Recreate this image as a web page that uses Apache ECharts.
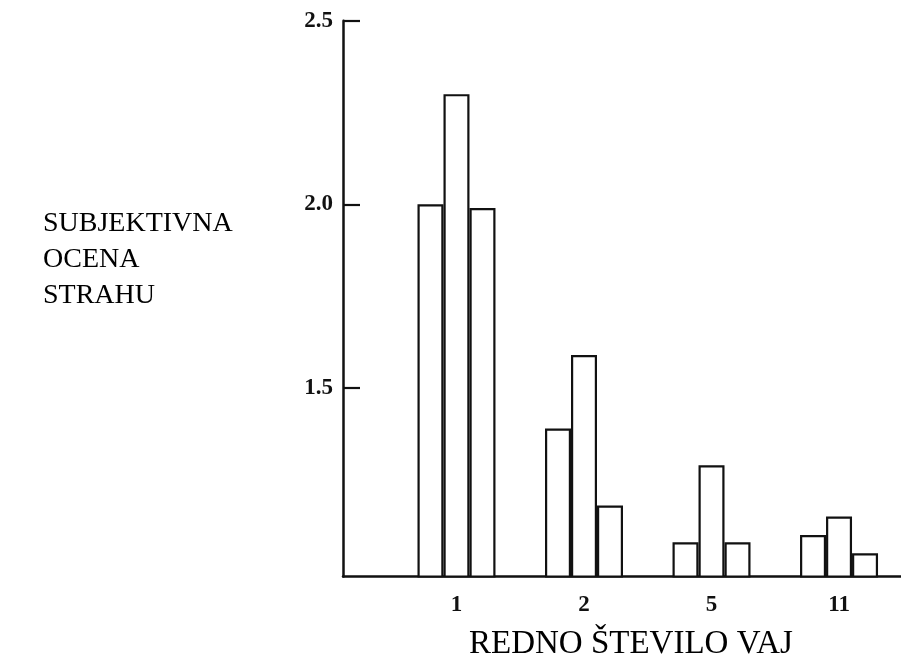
<!DOCTYPE html>
<html>
<head>
<meta charset="utf-8">
<script src="https://cdn.jsdelivr.net/npm/echarts@6/dist/echarts.min.js"></script>
<style>
html,body{margin:0;padding:0;background:#fff;}
#chart{width:901px;height:659px;}
</style>
</head>
<body>
<div id="chart"></div>
<script>
// Data
const categories = ['1', '2', '5', '11'];
const seriesA = [2.00, 1.39, 1.08, 1.10];
const seriesB = [2.30, 1.59, 1.29, 1.15];
const seriesC = [1.99, 1.18, 1.08, 1.05];
const yTickLabels = [1.5, 2.0, 2.5];
const yAxisTitle = 'SUBJEKTIVNA\nOCENA\nSTRAHU';
const xAxisTitle = 'REDNO ŠTEVILO VAJ';

const positions = categories.map((c, i) => i + 1);
const toPairs = arr => arr.map((v, i) => [positions[i], v]);

const barStyle = { color: '#ffffff', borderColor: '#111111', borderWidth: 2.2 };
function mkSeries(arr) {
  return {
    type: 'bar',
    data: toPairs(arr),
    barWidth: 26,
    barGap: '0%',
    itemStyle: barStyle,
    silent: true,
    animation: false
  };
}

const chart = echarts.init(document.getElementById('chart'), null, { renderer: 'canvas' });
chart.setOption({
  backgroundColor: '#ffffff',
  animation: false,
  title: [
    {
      text: yAxisTitle,
      left: 38, top: 201,
      textStyle: { fontFamily: 'Liberation Serif', fontSize: 28, fontWeight: 'normal', color: '#000', lineHeight: 36 }
    },
    {
      text: xAxisTitle,
      left: 464, top: 621,
      textStyle: { fontFamily: 'Liberation Serif', fontSize: 33, fontWeight: 'normal', color: '#000', lineHeight: 36 }
    }
  ],
  grid: { left: 343, right: 0, top: 20.7, bottom: 82.5, containLabel: false },
  xAxis: {
    type: 'value',
    min: 0.11, max: 4.486,
    splitLine: { show: false },
    axisLine: { show: true, lineStyle: { color: '#111', width: 2.5 } },
    axisTick: { show: false },
    axisLabel: {
      customValues: positions,
      formatter: v => categories[Math.round(v) - 1] || '',
      fontFamily: 'Liberation Serif', fontSize: 23, fontWeight: 'bold', color: '#111', margin: 17
    }
  },
  yAxis: {
    type: 'value',
    min: 0.987, max: 2.5,
    splitLine: { show: false },
    axisLine: { show: true, lineStyle: { color: '#111', width: 2.5 } },
    axisTick: { show: true, inside: true, length: 17, customValues: yTickLabels, lineStyle: { color: '#111', width: 2.2 } },
    axisLabel: {
      customValues: yTickLabels,
      formatter: v => v.toFixed(1),
      fontFamily: 'Liberation Serif', fontSize: 23, fontWeight: 'bold', color: '#111', margin: 10
    }
  },
  series: [mkSeries(seriesA), mkSeries(seriesB), mkSeries(seriesC)]
});
</script>
</body>
</html>
